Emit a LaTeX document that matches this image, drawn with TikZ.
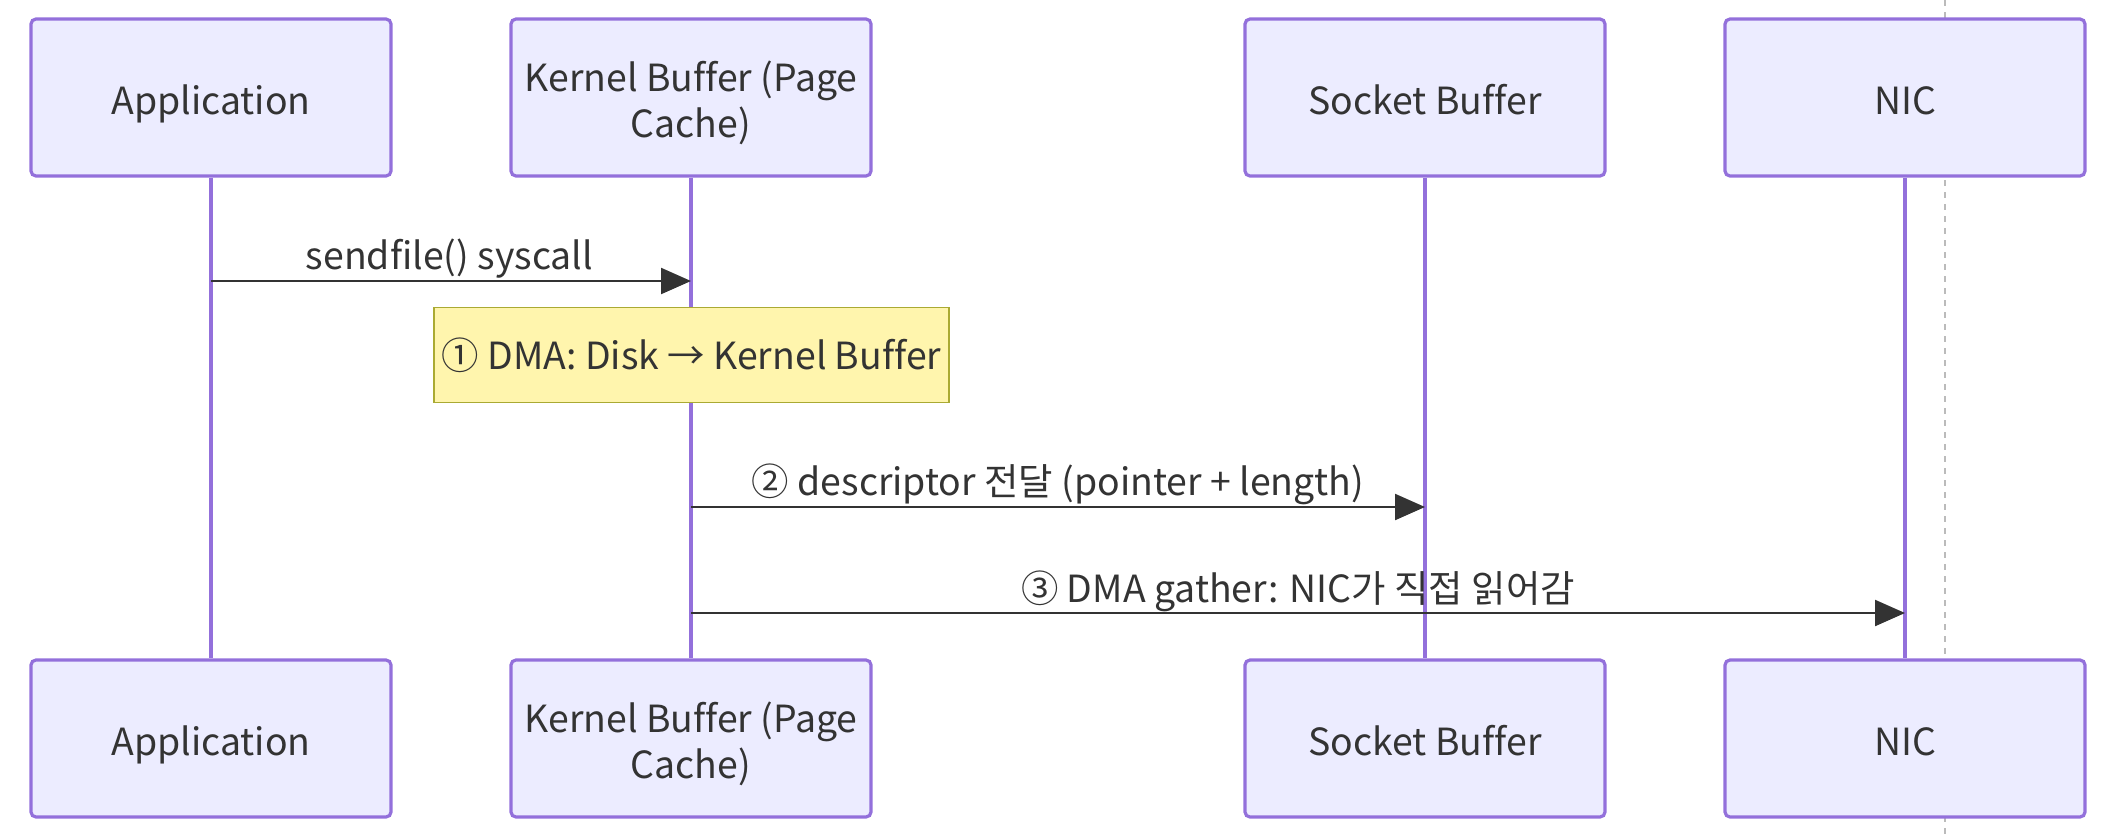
\documentclass[tikz,border=0pt]{standalone}
\usepackage{fontspec}
\setmainfont{Noto Sans CJK KR}[Ligatures=NoCommon]
\usetikzlibrary{arrows.meta}
\definecolor{actfill}{HTML}{ECECFF}
\definecolor{actline}{HTML}{9370DB}
\definecolor{txt}{HTML}{333333}
\definecolor{notefill}{HTML}{FFF5AD}
\definecolor{noteline}{HTML}{AAAA33}
\definecolor{sepgray}{HTML}{BBBBBB}
\newcommand\acttxt[1]{\raisebox{-3.9pt}[\height][\depth]{\begin{tabular}{@{}c@{}}#1\end{tabular}}}
\tikzset{
  actor/.style={draw=actline, fill=actfill, line width=1.6pt, rounded corners=2.5pt,
    minimum width=180pt, minimum height=78.5pt, text=txt, font=\fontsize{18.7}{23}\selectfont,
    inner sep=0pt},
  life/.style={draw=actline, line width=1.6pt},
  msg/.style={draw=txt, line width=1.1pt, -{Triangle[length=15pt,width=13pt]}},
  lbl/.style={text=txt, font=\fontsize{18.7}{22}\selectfont, inner sep=0pt},
  notebox/.style={draw=noteline, fill=notefill, line width=0.9pt, minimum width=257.5pt,
    minimum height=47.5pt, text=txt, font=\fontsize{18.7}{22}\selectfont, inner sep=0pt},
  sep/.style={draw=sepgray, line width=1pt, dash pattern=on 3pt off 3pt}
}
\begin{document}
\begin{tikzpicture}[x=0.5pt, y=-0.5pt]
\useasboundingbox (0,0) rectangle (2108,836);
\coordinate (sepT) at (1945,0);
\coordinate (sepB) at (1945,836);
\draw[sep] (sepT) -- (sepB);
% actors top
\node[actor] (appT) at (211,97.5) {\acttxt{Application}};
\node[actor] (kerT) at (691,97.5) {\acttxt{Kernel Buffer (Page\\Cache)}};
\node[actor] (sockT) at (1425,97.5) {\acttxt{Socket Buffer}};
\node[actor] (nicT) at (1905,97.5) {\acttxt{NIC}};
% actors bottom
\node[actor] (appB) at (211,738.5) {\acttxt{Application}};
\node[actor] (kerB) at (691,738.5) {\acttxt{Kernel Buffer (Page\\Cache)}};
\node[actor] (sockB) at (1425,738.5) {\acttxt{Socket Buffer}};
\node[actor] (nicB) at (1905,738.5) {\acttxt{NIC}};
% lifelines
\draw[life] (appT.south) -- (appB.north);
\draw[life] (kerT.south) -- (kerB.north);
\draw[life] (sockT.south) -- (sockB.north);
\draw[life] (nicT.south) -- (nicB.north);
% message rows
\coordinate (r1) at (0,281);
\coordinate (r2) at (0,507);
\coordinate (r3) at (0,613);
% message 1
\draw[msg] (appT |- r1) -- (kerT |- r1);
\node[lbl] (l1) at (449.5,259) {sendfile() syscall};
% note
\node[notebox] (note) at (691.5,355) {① DMA: Disk → Kernel Buffer};
% message 2
\draw[msg] (kerT |- r2) -- (sockT |- r2);
\node[lbl] (l2) at (1058,484) {② descriptor 전달 (pointer + length)};
% message 3
\draw[msg] (kerT |- r3) -- (nicT |- r3);
\node[lbl] (l3) at (1298,591) {③ DMA gather: NIC가 직접 읽어감};
\end{tikzpicture}
\end{document}
